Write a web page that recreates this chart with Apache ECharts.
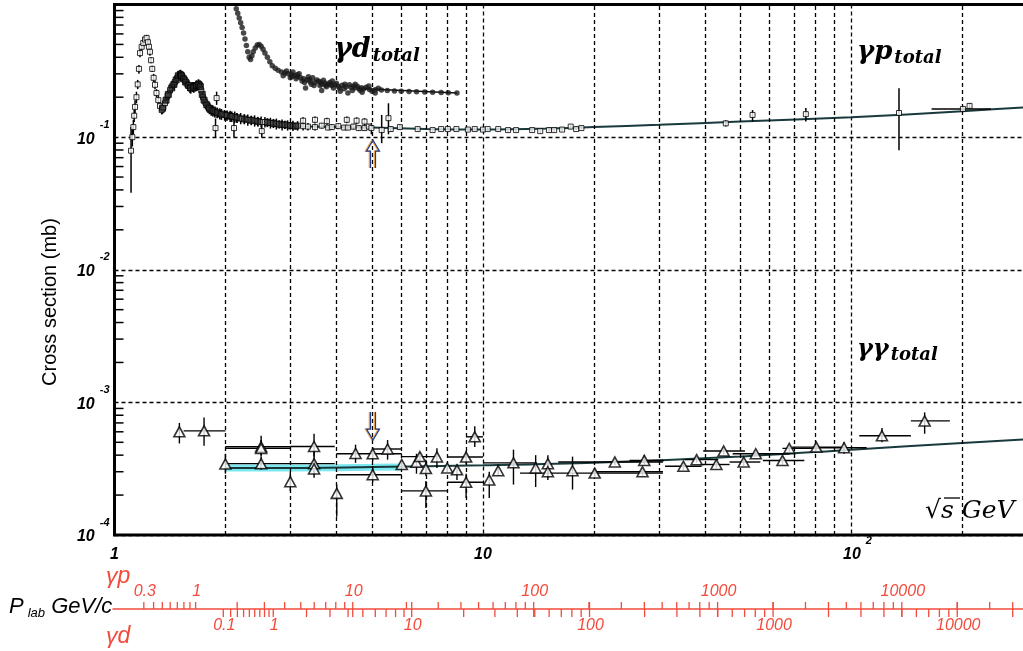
<!DOCTYPE html>
<html>
<head>
<meta charset="utf-8">
<script src="https://cdn.jsdelivr.net/npm/echarts@6/dist/echarts.min.js"></script>
<style>
  html, body { margin: 0; padding: 0; background: #fff; }
  #chart { width: 1023px; height: 651px; }
</style>
</head>
<body>
<div id="chart"></div>
<script>
// gamma p total: [sqrt(s) GeV, sigma mb, err low, err high]
const gpPoints = [
  [1.109, 0.079, 0.038, 0.119], [1.118, 0.100, 0.085, 0.118], [1.125, 0.119, 0.105, 0.135],
  [1.131, 0.145, 0.130, 0.160], [1.137, 0.169, 0.150, 0.190], [1.147, 0.200, 0.180, 0.220],
  [1.156, 0.250, 0.230, 0.270], [1.165, 0.327, 0.300, 0.350], [1.173, 0.430, 0.400, 0.460],
  [1.185, 0.480, 0.450, 0.510], [1.197, 0.513, 0.480, 0.540], [1.210, 0.545, 0.510, 0.580],
  [1.222, 0.560, 0.530, 0.590], [1.232, 0.520, 0.490, 0.550], [1.240, 0.480, 0.450, 0.510],
  [1.248, 0.440, 0.410, 0.470], [1.257, 0.380, 0.360, 0.400], [1.266, 0.327, 0.310, 0.345],
  [1.277, 0.280, 0.260, 0.300], [1.288, 0.248, 0.230, 0.265], [1.300, 0.215, 0.200, 0.230],
  [1.315, 0.190, 0.175, 0.205], [1.329, 0.172, 0.158, 0.186], [1.343, 0.160, 0.148, 0.172],
  [1.357, 0.168, 0.155, 0.180], [1.371, 0.180, 0.166, 0.195], [1.393, 0.205, 0.190, 0.220],
  [1.415, 0.227, 0.210, 0.245], [1.436, 0.245, 0.228, 0.262], [1.458, 0.260, 0.240, 0.280],
  [1.480, 0.280, 0.260, 0.300], [1.505, 0.300, 0.280, 0.320], [1.530, 0.285, 0.265, 0.305],
  [1.553, 0.270, 0.250, 0.290], [1.578, 0.250, 0.230, 0.270], [1.603, 0.235, 0.215, 0.255],
  [1.630, 0.240, 0.220, 0.260], [1.654, 0.240, 0.220, 0.260], [1.680, 0.245, 0.225, 0.265],
  [1.706, 0.248, 0.228, 0.268], [1.720, 0.225, 0.205, 0.245], [1.739, 0.200, 0.180, 0.220],
  [1.765, 0.182, 0.165, 0.200], [1.794, 0.169, 0.152, 0.186], [1.830, 0.160, 0.145, 0.175],
  [1.873, 0.155, 0.140, 0.170], [1.880, 0.117, 0.100, 0.138], [1.893, 0.197, 0.175, 0.220],
  [1.930, 0.150, 0.136, 0.165], [1.990, 0.147, 0.133, 0.160], [2.060, 0.144, 0.130, 0.158],
  [2.120, 0.142, 0.128, 0.156], [2.110, 0.117, 0.100, 0.135], [2.200, 0.138, 0.125, 0.152],
  [2.300, 0.135, 0.122, 0.148], [2.400, 0.133, 0.120, 0.146], [2.500, 0.130, 0.118, 0.143],
  [2.510, 0.111, 0.100, 0.124], [2.560, 0.130, 0.118, 0.142], [2.650, 0.128, 0.116, 0.140],
  [2.750, 0.126, 0.114, 0.138], [2.850, 0.124, 0.112, 0.136], [2.950, 0.123, 0.112, 0.134],
  [3.050, 0.122, 0.111, 0.133], [3.140, 0.122, 0.112, 0.132], [3.250, 0.121, 0.112, 0.130],
  [3.250, 0.133, 0.125, 0.141], [3.350, 0.120, 0.112, 0.128], [3.500, 0.119, 0.112, 0.126],
  [3.500, 0.135, 0.127, 0.143], [3.650, 0.122, 0.116, 0.128], [3.770, 0.132, 0.124, 0.140],
  [3.800, 0.118, 0.113, 0.124], [3.890, 0.119, 0.113, 0.125], [4.050, 0.121, 0.115, 0.127],
  [4.200, 0.118, 0.113, 0.123], [4.270, 0.135, 0.127, 0.143], [4.300, 0.118, 0.113, 0.123],
  [4.450, 0.120, 0.114, 0.126], [4.540, 0.133, 0.125, 0.141], [4.600, 0.117, 0.112, 0.122],
  [4.770, 0.131, 0.123, 0.139], [4.770, 0.117, 0.112, 0.122], [4.900, 0.120, 0.114, 0.126],
  [4.980, 0.117, 0.105, 0.128], [5.310, 0.113, 0.090, 0.147], [5.540, 0.139, 0.105, 0.180],
  [5.620, 0.115, 0.110, 0.120], [5.950, 0.119, 0.114, 0.124], [6.650, 0.115, 0.111, 0.119],
  [7.300, 0.113, 0.110, 0.116], [7.700, 0.115, 0.112, 0.118], [8.030, 0.115, 0.112, 0.118],
  [8.470, 0.115, 0.112, 0.118], [9.100, 0.114, 0.111, 0.117], [9.500, 0.115, 0.112, 0.118],
  [10.00, 0.114, 0.111, 0.117], [10.30, 0.115, 0.112, 0.118], [11.00, 0.115, 0.112, 0.118],
  [11.70, 0.113, 0.110, 0.116], [12.30, 0.113, 0.110, 0.116], [13.60, 0.113, 0.110, 0.116],
  [14.30, 0.111, 0.108, 0.114], [15.10, 0.113, 0.110, 0.116], [15.60, 0.113, 0.110, 0.116],
  [16.40, 0.114, 0.111, 0.117], [17.30, 0.120, 0.117, 0.123], [17.90, 0.115, 0.112, 0.118],
  [18.50, 0.117, 0.114, 0.120],
  [45.6, 0.127, 0.120, 0.134], [53.9, 0.147, 0.131, 0.160], [75.2, 0.149, 0.131, 0.166],
  [134.6, 0.152, 0.0795, 0.234], [209.2, 0.172, 0.164, 0.180]
]
// second, denser gamma p data set in the resonance region
const gpDense = [
  [1.35, 0.165, 0.150, 0.182], [1.38, 0.190, 0.172, 0.208], [1.40, 0.210, 0.190, 0.230],
  [1.43, 0.235, 0.214, 0.256], [1.45, 0.250, 0.228, 0.272], [1.47, 0.270, 0.246, 0.294],
  [1.49, 0.290, 0.264, 0.316], [1.51, 0.295, 0.268, 0.322], [1.52, 0.290, 0.264, 0.316],
  [1.54, 0.275, 0.250, 0.300], [1.56, 0.260, 0.236, 0.284], [1.59, 0.245, 0.222, 0.268],
  [1.61, 0.235, 0.213, 0.257], [1.64, 0.238, 0.216, 0.260], [1.67, 0.245, 0.222, 0.268],
  [1.69, 0.250, 0.227, 0.273], [1.71, 0.240, 0.218, 0.262], [1.73, 0.210, 0.190, 0.230],
  [1.75, 0.190, 0.172, 0.208], [1.78, 0.175, 0.158, 0.192], [1.81, 0.165, 0.149, 0.181],
  [1.85, 0.158, 0.143, 0.173], [1.90, 0.153, 0.139, 0.167], [1.95, 0.149, 0.135, 0.163],
  [2.02, 0.146, 0.133, 0.159], [2.08, 0.143, 0.130, 0.156], [2.15, 0.140, 0.128, 0.152],
  [2.25, 0.137, 0.125, 0.149], [2.35, 0.134, 0.123, 0.145], [2.45, 0.131, 0.120, 0.142],
  [2.60, 0.129, 0.119, 0.139], [2.70, 0.127, 0.117, 0.137], [2.80, 0.125, 0.116, 0.134],
  [2.90, 0.124, 0.115, 0.133], [3.00, 0.122, 0.114, 0.130], [3.10, 0.121, 0.114, 0.128]
]
// points with horizontal bars: [x, y, ylo, yhi, xlo, xhi]
const gpBinned = [
  [200.7, 0.163, 0.158, 0.168, 165, 239]
]
const gpFit = [
  [3, 0.121], [5, 0.118], [7, 0.115], [10, 0.114], [15, 0.116], [20, 0.119],
  [30, 0.124], [50, 0.131], [100, 0.141], [200, 0.157], [330, 0.171]
]

// gamma d total: [sqrt(s) GeV, sigma mb]
const gdPoints = [
  [2.14, 0.93], [2.16, 0.86], [2.18, 0.79], [2.20, 0.73], [2.22, 0.67], [2.24, 0.61],
  [2.26, 0.55], [2.28, 0.49], [2.30, 0.44], [2.32, 0.40], [2.34, 0.385], [2.36, 0.41],
  [2.38, 0.44], [2.41, 0.47], [2.44, 0.495], [2.47, 0.50], [2.50, 0.485], [2.53, 0.46],
  [2.56, 0.43], [2.60, 0.40], [2.64, 0.37], [2.68, 0.345], [2.73, 0.33], [2.78, 0.32],
  [2.84, 0.31], [2.90, 0.305], [2.96, 0.30], [3.02, 0.298], [3.08, 0.29], [3.14, 0.285],
  [3.20, 0.28], [3.26, 0.275], [3.33, 0.27], [3.30, 0.235], [3.40, 0.262], [3.45, 0.28],
  [3.50, 0.258], [3.58, 0.264], [3.65, 0.25], [3.65, 0.225], [3.72, 0.256], [3.80, 0.25],
  [3.88, 0.245], [3.90, 0.265], [3.96, 0.248], [4.05, 0.242], [4.10, 0.222], [4.15, 0.246],
  [4.25, 0.24], [4.30, 0.215], [4.38, 0.238], [4.48, 0.235], [4.50, 0.25], [4.60, 0.233],
  [4.70, 0.218], [4.75, 0.232], [4.90, 0.243], [4.92, 0.229], [5.10, 0.228], [5.10, 0.215],
  [5.30, 0.227], [5.50, 0.225], [5.75, 0.223], [6.00, 0.222], [6.30, 0.221], [6.60, 0.22],
  [6.95, 0.219], [7.30, 0.218], [7.70, 0.217], [8.05, 0.216], [8.50, 0.215],
  [2.87, 0.29], [2.93, 0.315], [3.00, 0.28], [3.05, 0.31], [3.11, 0.275], [3.17, 0.30],
  [3.23, 0.265], [3.36, 0.285], [3.42, 0.25], [3.54, 0.27], [3.61, 0.245], [3.69, 0.268],
  [3.76, 0.24], [3.84, 0.258], [3.93, 0.235], [4.00, 0.255], [4.20, 0.232], [4.34, 0.248],
  [4.42, 0.225], [4.56, 0.242], [4.64, 0.226], [4.82, 0.238], [5.00, 0.222], [5.20, 0.234],
  [3.03, 0.287], [3.13, 0.295], [3.28, 0.258], [3.38, 0.272], [3.48, 0.245], [3.62, 0.26],
  [3.74, 0.246], [3.86, 0.252], [4.08, 0.235], [4.22, 0.25], [4.46, 0.243], [4.68, 0.236]
]
const gdTail = [[4.6, 0.233], [8.5, 0.215]]

// gamma gamma total: [x, y, ylo, yhi, xlo, xhi]
const ggPoints = [
  [1.50, 6.0e-4, 4.9e-4, 7.0e-4, 1.50, 1.50],
  [1.75, 6.1e-4, 4.7e-4, 7.7e-4, 1.54, 2.00],
  [2.50, 4.63e-4, 3.9e-4, 5.6e-4, 2.00, 3.00],
  [2.50, 4.50e-4, 4.0e-4, 5.2e-4, 2.00, 3.00],
  [3.48, 4.65e-4, 3.9e-4, 5.8e-4, 3.00, 3.96],
  [2.00, 3.43e-4, 2.9e-4, 4.1e-4, 2.00, 2.00],
  [2.50, 3.45e-4, 3.1e-4, 3.9e-4, 2.00, 3.00],
  [3.48, 3.45e-4, 2.85e-4, 4.3e-4, 3.00, 3.96],
  [3.48, 3.15e-4, 2.7e-4, 3.7e-4, 3.48, 3.48],
  [3.00, 2.52e-4, 2.15e-4, 3.0e-4, 3.00, 3.00],
  [4.01, 2.06e-4, 1.37e-4, 2.4e-4, 4.01, 4.01],
  [4.51, 4.12e-4, 3.5e-4, 4.8e-4, 4.51, 4.51],
  [5.02, 4.10e-4, 3.6e-4, 4.6e-4, 4.00, 6.02],
  [5.02, 2.85e-4, 2.5e-4, 3.3e-4, 4.00, 6.02],
  [5.51, 4.45e-4, 3.7e-4, 5.2e-4, 5.02, 6.02],
  [6.02, 3.40e-4, 3.2e-4, 3.6e-4, 6.02, 6.02],
  [6.60, 3.53e-4, 2.9e-4, 4.1e-4, 6.60, 6.60],
  [6.74, 3.90e-4, 3.6e-4, 4.2e-4, 6.02, 7.50],
  [7.00, 3.17e-4, 2.8e-4, 3.7e-4, 7.00, 7.00],
  [7.00, 2.15e-4, 1.6e-4, 2.55e-4, 6.02, 8.00],
  [7.50, 3.88e-4, 3.2e-4, 4.5e-4, 7.50, 7.50],
  [8.00, 3.20e-4, 3.0e-4, 3.4e-4, 8.00, 8.00],
  [8.50, 3.10e-4, 2.6e-4, 3.4e-4, 8.50, 8.50],
  [9.00, 3.87e-4, 3.4e-4, 4.3e-4, 8.00, 10.0],
  [9.00, 2.50e-4, 1.9e-4, 2.9e-4, 8.00, 10.0],
  [9.50, 5.50e-4, 4.6e-4, 6.6e-4, 9.00, 10.0],
  [10.4, 2.60e-4, 1.9e-4, 3.0e-4, 10.4, 10.4],
  [11.0, 3.05e-4, 2.8e-4, 3.3e-4, 11.0, 11.0],
  [12.1, 3.50e-4, 2.4e-4, 4.4e-4, 10.0, 14.0],
  [13.9, 3.20e-4, 2.3e-4, 4.0e-4, 13.9, 13.9],
  [15.0, 3.45e-4, 2.7e-4, 4.0e-4, 15.0, 15.0],
  [15.0, 3.00e-4, 2.6e-4, 3.5e-4, 15.0, 15.0],
  [17.5, 3.05e-4, 2.2e-4, 3.9e-4, 17.5, 17.5],
  [20.1, 2.93e-4, 2.75e-4, 3.1e-4, 12.6, 30.8],
  [22.8, 3.55e-4, 3.35e-4, 3.75e-4, 16.0, 30.8],
  [27.4, 3.65e-4, 3.4e-4, 4.0e-4, 25.0, 31.0],
  [27.1, 3.00e-4, 2.8e-4, 3.2e-4, 20.1, 30.8],
  [35.0, 3.30e-4, 3.1e-4, 3.5e-4, 31.2, 39.2],
  [38.0, 3.70e-4, 3.5e-4, 3.9e-4, 35.3, 43.5],
  [43.0, 3.40e-4, 3.2e-4, 3.6e-4, 38.8, 46.7],
  [45.0, 4.30e-4, 4.05e-4, 4.55e-4, 39.6, 51.4],
  [51.0, 3.55e-4, 3.3e-4, 3.8e-4, 46.7, 56.6],
  [55.0, 4.10e-4, 3.9e-4, 4.3e-4, 47.6, 68.0],
  [65.0, 3.65e-4, 3.4e-4, 3.9e-4, 57.5, 74.5],
  [67.8, 4.50e-4, 4.25e-4, 4.75e-4, 65.0, 82.0],
  [80.3, 4.60e-4, 4.35e-4, 4.85e-4, 69.0, 94.0],
  [95.5, 4.55e-4, 4.1e-4, 5.0e-4, 82.0, 110],
  [121, 5.60e-4, 5.0e-4, 6.4e-4, 105, 145],
  [158, 7.25e-4, 5.8e-4, 8.4e-4, 145, 185]
]
const ggFit = [
  [2, 3.2e-4], [3, 3.2e-4], [5, 3.25e-4], [10, 3.35e-4], [20, 3.5e-4],
  [50, 3.9e-4], [100, 4.4e-4], [200, 4.95e-4], [330, 5.35e-4]
]
const ggBand = [[2.0, 3.2e-4], [3.0, 3.2e-4], [4.0, 3.22e-4], [5.0, 3.24e-4], [6.0, 3.26e-4]]

// arrows: x, tip y, direction (1 = pointing down)
const arrowX = [5.03, 5.03]
const arrowY = [0.095, 5.2e-4]
const arrowDir = [-1, 1]

// grid lines and ticks
const gridMinorX = [2, 3, 4, 5, 6, 7, 8, 9, 20, 30, 40, 50, 60, 70, 80, 90, 200]
const yDecades = [1e-4, 1e-3, 1e-2, 1e-1]
const minorMult = [2, 3, 4, 5, 6, 7, 8, 9]
const xMin = 1, xMax = 330

// lab momentum scales (GeV/c)
const plabDecadesP = [0.1, 1, 10, 100, 1000, 10000]
const gpLabelP = [0.3, 1, 10, 100, 1000, 10000]
const gdLabelP = [0.1, 1, 10, 100, 1000, 10000]
const gpStartP = 0.3, gpEndP = 40000
const gdStartP = 0.1, gdEndP = 20000
const mProton = 0.938, mDeuteron = 1.876

const red = '#f24b3c'
const sqrtS = (m, p) => Math.sqrt(m * m + 2 * m * p)
const round6 = v => +v.toPrecision(6)

const yMinorTicks = []
yDecades.forEach(d => minorMult.forEach(k => yMinorTicks.push([xMin, round6(k * d)])))

function plabList(startP, endP) {
  const out = []
  plabDecadesP.forEach(d => minorMult.concat([1]).forEach(k => {
    const p = round6(k * d)
    if (p >= startP && p <= endP && !out.includes(p)) out.push(p)
  }))
  ;[2, 3, 4].forEach(k => { const p = k * 1e4; if (p <= endP && !out.includes(p)) out.push(p) })
  return out.sort((a, b) => a - b)
}
const plabTicks = []
plabList(gpStartP, gpEndP).forEach(p => plabTicks.push({
  x: sqrtS(mProton, p), side: 1, major: p >= 10 && gpLabelP.includes(p), label: gpLabelP.includes(p) ? String(p) : ''
}))
plabList(gdStartP, gdEndP).forEach(p => plabTicks.push({
  x: sqrtS(mDeuteron, p), side: -1, major: p >= 10 && gdLabelP.includes(p), label: gdLabelP.includes(p) ? String(p) : ''
}))

const withX = pts => pts.map(p => p.length === 6 ? p : [p[0], p[1], p[2], p[3], p[0], p[0]])

function errorRenderer(width) {
  return function (params, api) {
    const x = api.value(0), y = api.value(1)
    const a = api.coord([x, api.value(2)]), b = api.coord([x, api.value(3)])
    const c = api.coord([api.value(4), y]), d = api.coord([api.value(5), y])
    const style = { stroke: '#000', lineWidth: width }
    return {
      type: 'group',
      children: [
        { type: 'line', shape: { x1: a[0], y1: a[1], x2: b[0], y2: b[1] }, style },
        { type: 'line', shape: { x1: c[0], y1: c[1], x2: d[0], y2: d[1] }, style }
      ]
    }
  }
}

function renderYTick(params, api) {
  const p = api.coord([api.value(0), api.value(1)])
  return { type: 'line', shape: { x1: p[0], y1: p[1], x2: p[0] + 9, y2: p[1] }, style: { stroke: '#000', lineWidth: 1.5 } }
}

function renderPlab(params, api) {
  const t = plabTicks[params.dataIndex]
  const p = api.coord([t.x, 1e-4])
  const y0 = p[1] + 74
  const children = []
  if (params.dataIndex === 0) {
    const a = api.coord([xMin, 1e-4]), b = api.coord([xMax, 1e-4])
    children.push({ type: 'line', shape: { x1: a[0] - 2, y1: y0, x2: b[0], y2: y0 }, style: { stroke: red, lineWidth: 1.6 } })
  }
  const up = (t.side > 0 || t.major) ? 7 : 0
  const down = (t.side < 0 || t.major) ? 8 : 0
  children.push({ type: 'line', shape: { x1: p[0], y1: y0 - up, x2: p[0], y2: y0 + down }, style: { stroke: red, lineWidth: 1.3 } })
  if (t.label) {
    children.push({
      type: 'text', x: p[0] + 1, y: y0 + (t.side > 0 ? -17 : 17),
      style: { text: t.label, fill: red, fontSize: 16, fontStyle: 'italic', fontFamily: 'Liberation Sans', align: 'center', verticalAlign: 'middle' }
    })
  }
  return { type: 'group', children }
}

function renderArrow(params, api) {
  const i = params.dataIndex
  const p = api.coord([api.value(0), api.value(1)])
  const d = arrowDir[i]
  const shape = [[-2.5, -28], [-2.5, -11], [-6.5, -11], [0, 0], [6.5, -11], [2.5, -11], [2.5, -28]]
  const pts = shape.map(q => [p[0] + q[0], p[1] + q[1] * d])
  return {
    type: 'group',
    children: [
      { type: 'polyline', shape: { points: pts.map(q => [q[0] - 1.2, q[1]]) }, style: { stroke: '#f0a040', lineWidth: 1.2, fill: null } },
      { type: 'polyline', shape: { points: pts }, style: { stroke: '#203c8c', lineWidth: 1.2, fill: null } }
    ]
  }
}

const tickRich = {
  b: { fontSize: 16, fontWeight: 'bold', fontStyle: 'italic', fontFamily: 'Liberation Sans', color: '#000', padding: [12, 0, 8, 0] },
  s: { fontSize: 11, fontWeight: 'bold', fontStyle: 'italic', fontFamily: 'Liberation Sans', color: '#000', verticalAlign: 'top', padding: [0, 0, 0, 5] },
  sp: { width: 12 }
}
const labelRich = (size, subSize) => ({
  a: { fontSize: size, fontWeight: 'bold', fontStyle: 'italic', fontFamily: 'DejaVu Serif', lineHeight: size + 4 },
  b: { fontSize: subSize, fontWeight: 'bold', fontStyle: 'italic', fontFamily: 'DejaVu Serif', verticalAlign: 'bottom', lineHeight: subSize, padding: [0, 0, 0, 2] }
})
const isDecade = v => Math.abs(Math.log10(v) - Math.round(Math.log10(v))) < 1e-6

const chart = echarts.init(document.getElementById('chart'))
const option = {
  animation: false,
  backgroundColor: '#fff',
  grid: {
    left: 114.5, top: 4.5, right: -19.5, bottom: 116,
    show: true, borderColor: '#000', borderWidth: 3, backgroundColor: 'transparent',
    outerBoundsMode: 'none'
  },
  xAxis: {
    type: 'log', logBase: 10, min: xMin, max: xMax,
    axisLine: { show: false }, axisTick: { show: false },
    splitLine: { show: true, lineStyle: { color: '#000', type: [4, 3], width: 1.3 } },
    axisLabel: {
      margin: 0,
      formatter: v => {
        if (!isDecade(v)) return ''
        const n = Math.round(Math.log10(v))
        return n === 0 ? '{b|1}' : n === 1 ? '{b|10}' : '{sp|}{b|10}{s|' + n + '}'
      },
      rich: tickRich
    }
  },
  yAxis: {
    type: 'log', logBase: 10, min: 1e-4, max: 1,
    axisLine: { show: false }, axisTick: { show: false },
    splitLine: { show: true, lineStyle: { color: '#000', type: [4, 3], width: 1.3 } },
    axisLabel: {
      margin: 5,
      formatter: v => {
        const n = Math.round(Math.log10(v))
        return n === 0 ? '' : '{b|10}{s|' + n + '}'
      },
      rich: tickRich
    }
  },
  graphic: [
    {
      type: 'text', x: 50, y: 302, rotation: Math.PI / 2,
      style: { text: 'Cross section (mb)', fontSize: 20, fontFamily: 'Liberation Sans', fill: '#000', align: 'center', verticalAlign: 'middle' }
    },
    { type: 'text', x: 334, y: 50, style: { text: '{a|γd}{b|total}', verticalAlign: 'middle', rich: labelRich(27, 18) } },
    { type: 'text', x: 857, y: 52, style: { text: '{a|γp}{b|total}', verticalAlign: 'middle', rich: labelRich(26, 18) } },
    { type: 'text', x: 857, y: 350, style: { text: '{a|γγ}{b|total}', verticalAlign: 'middle', rich: labelRich(24, 18) } },
    {
      type: 'text', x: 925, y: 511,
      style: { text: '√s GeV', fontSize: 25, fontStyle: 'italic', fontFamily: 'DejaVu Serif', fill: '#000', verticalAlign: 'middle' }
    },
    { type: 'line', shape: { x1: 944, y1: 498, x2: 960, y2: 498 }, style: { stroke: '#000', lineWidth: 1.3 } },
    {
      type: 'text', x: 106, y: 577,
      style: { text: 'γp', fontSize: 23, fontStyle: 'italic', fontFamily: 'Liberation Sans', fill: red, verticalAlign: 'middle' }
    },
    {
      type: 'text', x: 9, y: 607,
      style: {
        text: '{a|P}{b|lab}{a| GeV/c}', verticalAlign: 'middle',
        rich: {
          a: { fontSize: 22, fontStyle: 'italic', fontFamily: 'Liberation Sans', color: red, lineHeight: 26 },
          b: { fontSize: 13, fontStyle: 'italic', fontFamily: 'Liberation Sans', color: red, verticalAlign: 'bottom', lineHeight: 13, padding: [0, 0, 0, 4] }
        }
      }
    },
    {
      type: 'text', x: 106, y: 637,
      style: { text: 'γd', fontSize: 23, fontStyle: 'italic', fontFamily: 'Liberation Sans', fill: red, verticalAlign: 'middle' }
    }
  ],
  series: [
    {
      name: 'gp fit', type: 'line', data: gpFit, smooth: 0.3, showSymbol: false, z: 3,
      lineStyle: { color: '#183a3c', width: 2 },
      markLine: {
        silent: true, symbol: ['none', 'none'], label: { show: false }, animation: false,
        lineStyle: { color: '#000', type: [4, 3], width: 1.3 },
        data: gridMinorX.map(v => ({ xAxis: v }))
      }
    },
    {
      name: 'gp errors', type: 'custom', renderItem: errorRenderer(1.5), z: 4,
      data: withX(gpPoints).concat(gpBinned), encode: { x: 0, y: 1 }
    },
    {
      name: 'gp dense errors', type: 'custom', renderItem: errorRenderer(1.8), z: 4,
      data: withX(gpDense), encode: { x: 0, y: 1 }
    },
    {
      name: 'gp total', type: 'scatter', z: 5, symbol: 'rect', symbolSize: 5,
      data: gpPoints.concat(gpBinned).map(p => [p[0], p[1]]),
      itemStyle: { color: '#fff', borderColor: '#000', borderWidth: 1 }
    },
    {
      name: 'gp dense', type: 'scatter', z: 5, symbol: 'rect', symbolSize: 6,
      data: gpDense.map(p => [p[0], p[1]]),
      itemStyle: { color: '#222', borderColor: '#000', borderWidth: 1 }
    },
    {
      name: 'gd total', type: 'scatter', z: 5, symbol: 'circle', symbolSize: 5.5,
      data: gdPoints, itemStyle: { color: '#1a1a1a' }
    },
    {
      name: 'gd tail', type: 'line', data: gdTail, showSymbol: false, z: 3,
      lineStyle: { color: '#111', width: 1.5 }
    },
    {
      name: 'gg band', type: 'line', data: ggBand, showSymbol: false, z: 2,
      lineStyle: { color: '#6fe6ee', width: 7, opacity: 0.9 }
    },
    {
      name: 'gg fit', type: 'line', data: ggFit, smooth: 0.3, showSymbol: false, z: 3,
      lineStyle: { color: '#183a3c', width: 2 }
    },
    {
      name: 'gg errors', type: 'custom', renderItem: errorRenderer(1.4), z: 4,
      data: ggPoints, encode: { x: 0, y: 1 }
    },
    {
      name: 'gg total', type: 'scatter', z: 5, symbol: 'triangle', symbolSize: [11, 10],
      data: ggPoints.map(p => [p[0], p[1]]),
      itemStyle: { color: '#fff', borderColor: '#000', borderWidth: 1.6 }
    },
    {
      name: 'y minor ticks', type: 'custom', renderItem: renderYTick, z: 6,
      data: yMinorTicks, encode: { x: 0, y: 1 }
    },
    {
      name: 'plab', type: 'custom', renderItem: renderPlab, z: 6, clip: false,
      data: plabTicks.map(t => [t.x, 1e-4]), encode: { x: 0, y: 1 }
    },
    {
      name: 'arrows', type: 'custom', renderItem: renderArrow, z: 7,
      data: arrowX.map((x, i) => [x, arrowY[i]]), encode: { x: 0, y: 1 }
    }
  ]
}
chart.setOption(option)

window.addEventListener('resize', function () {
  chart.resize()
})
</script>
</body>
</html>
